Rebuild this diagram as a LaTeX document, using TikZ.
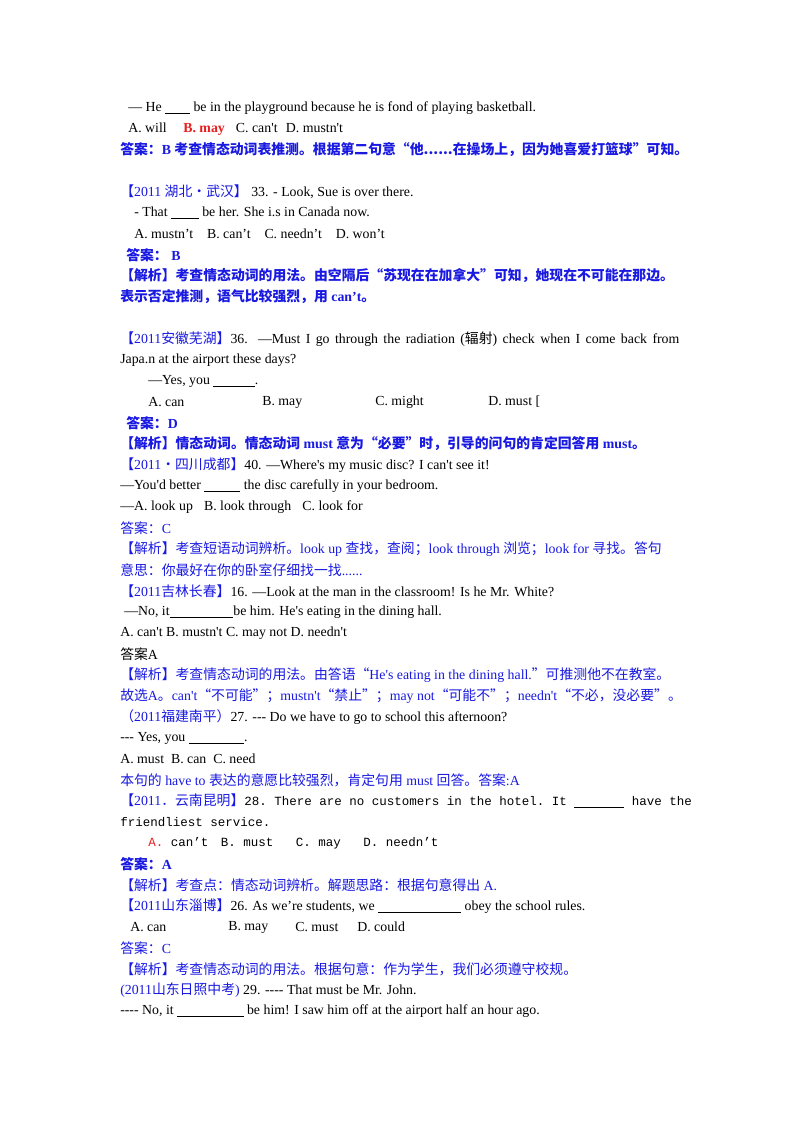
\documentclass[tikz,border=0pt]{standalone}
\usepackage{fontspec}
\setmainfont{Liberation Serif}[Ligatures=TeXOff]
\setmonofont{Liberation Mono}
\newfontfamily\zhf{Noto Sans CJK SC}
\newcommand{\zh}[1]{{\zhf #1}}
\newcommand{\zb}[1]{{\zhf\bfseries #1}}
\newcommand{\bl}[1]{\underline{\hspace{#1}}}
\definecolor{qb}{RGB}{25,25,225}
\definecolor{qr}{RGB}{230,30,30}
\begin{document}
\begin{tikzpicture}[x=0.744pt,y=-0.744pt,
  ln/.style={anchor=west,inner sep=0pt,font=\fontsize{10.3pt}{12pt}\selectfont},
  bln/.style={ln,text=qb},
  mono/.style={ln,font=\ttfamily\fontsize{9.3pt}{12pt}\selectfont}]
\fill[white] (0,0) rectangle (800,1132);
\node[ln] (l1) at (128,108) {— He \bl{1.8em} be in the playground because he is fond of playing basketball.};
\node[ln] (l2) at (128,129) {A. will\hspace{1.2em}{\color{qr}\bfseries B. may}\hspace{0.8em}C. can't\hspace{0.6em}D. mustn't};
\node[bln] (l3) at (120,150) {\bfseries\zb{答案：}B \zb{考查情态动词表推测。根据第二句意“他......在操场上，因为她喜爱打篮球”可知。}};
\node[ln] (l4) at (120,192) {{\color{qb}\zh{【}2011 \zh{湖北·武汉】}} 33. - Look, Sue is over there.};
\node[ln] (l5) at (134,213) {- That \bl{2em} be her. She i.s in Canada now.};
\node[ln] (l6) at (134,234) {A. mustn’t\hspace{1em}B. can’t\hspace{1em}C. needn’t\hspace{1em}D. won’t};
\node[bln] (l7) at (126,255) {\bfseries\zb{答案：} B};
\node[bln] (l8) at (120,276) {\bfseries\zb{【解析】考查情态动词的用法。由空隔后“苏现在在加拿大”可知，她现在不可能在那边。}};
\node[bln] (l9) at (120,297) {\bfseries\zb{表示否定推测，语气比较强烈，用} can’t\zb{。}};
\node[ln] (l10) at (120,339) {\makebox[416pt][s]{{\color{qb}\zh{【}2011\zh{安徽芜湖】}}36. —Must I go through the radiation (\zh{辐射}) check when I come back from}};
\node[ln] (l11) at (120,360) {Japa.n at the airport these days?};
\node[ln] (l12) at (148,381) {—Yes, you \bl{3em}.};
\node[ln] (a1) at (148,402) {A. can};
\node[ln] (a2) at (262,402) {B. may};
\node[ln] (a3) at (375,402) {C. might};
\node[ln] (a4) at (488,402) {D. must [};
\node[bln] (l13) at (126,423) {\bfseries\zb{答案：}D};
\node[bln] (l14) at (120,444) {\bfseries\zb{【解析】情态动词。情态动词} must \zb{意为“必要”时，引导的问句的肯定回答用} must\zb{。}};
\node[ln] (l15) at (120,465) {{\color{qb}\zh{【}2011\zh{•四川成都】}}40. —Where's my music disc? I can't see it!};
\node[ln] (l16) at (120,486) {—You'd better \textbf{\bl{2.6em}} the disc carefully in your bedroom.};
\node[ln] (l17) at (120,507) {—A. look up\hspace{0.8em}B. look through\hspace{0.8em}C. look for};
\node[bln] (l18) at (120,528) {\zh{答案：}C};
\node[bln] (l19) at (120,549) {\zh{【解析】考查短语动词辨析。}look up \zh{查找，查阅；}look through \zh{浏览；}look for \zh{寻找。答句}};
\node[bln] (l20) at (120,570) {\zh{意思：你最好在你的卧室仔细找一找}......};
\node[ln] (l21) at (120,591) {{\color{qb}\zh{【}2011\zh{吉林长春】}}16. —Look at the man in the classroom! Is he Mr. White?};
\node[ln] (l22) at (124,612) {—No, it\bl{4.6em}be him. He's eating in the dining hall.};
\node[ln] (l23) at (120,633) {A. can't B. mustn't C. may not D. needn't};
\node[ln] (l24) at (120,654) {\zh{答案}A};
\node[bln] (l25) at (120,675) {\zh{【解析】考查情态动词的用法。由答语“}He's eating in the dining hall.\zh{”可推测他不在教室。}};
\node[bln] (l26) at (120,696) {\zh{故选}A\zh{。}can't\zh{“不可能”；}mustn't\zh{“禁止”；}may not\zh{“可能不”；}needn't\zh{“不必，没必要”。}};
\node[ln] (l27) at (120,717) {{\color{qb}\zh{（}2011\zh{福建南平）}}27. --- Do we have to go to school this afternoon?};
\node[ln] (l28) at (120,738) {--- Yes, you \bl{4em}.};
\node[ln] (l29) at (120,759) {A. must\hspace{0.5em}B. can\hspace{0.5em}C. need};
\node[bln] (l30) at (120,780) {\zh{本句的} have to \zh{表达的意愿比较强烈，肯定句用} must \zh{回答。答案}:A};
\node[ln] (l31) at (120,801) {{\color{qb}\zh{【}2011\zh{．云南昆明】}}{\ttfamily\fontsize{9.3pt}{12pt}\selectfont 28. There are no customers in the hotel. It \bl{4em} have the}};
\node[mono] (l32) at (120,822) {friendliest service.};
\node[mono] (l33) at (148,843) {{\color{qr}A.} can’t\hspace{1em}B. must\hspace{1.8em}C. may\hspace{1.8em}D. needn’t};
\node[bln] (l34) at (120,864) {\bfseries\zb{答案：}A};
\node[bln] (l35) at (120,885) {\zh{【解析】考查点：情态动词辨析。解题思路：根据句意得出} A.};
\node[ln] (l36) at (120,906) {{\color{qb}\zh{【}2011\zh{山东淄博】}}26. As we’re students, we \bl{6em} obey the school rules.};
\node[ln] (b1) at (130,927) {A. can};
\node[ln] (b2) at (228,927) {B. may};
\node[ln] (b3) at (295,927) {C. must};
\node[ln] (b4) at (357,927) {D. could};
\node[bln] (l37) at (120,948) {\zh{答案：}C};
\node[bln] (l38) at (120,969) {\zh{【解析】考查情态动词的用法。根据句意：作为学生，我们必须遵守校规。}};
\node[ln] (l39) at (120,990) {{\color{qb}(2011\zh{山东日照中考})} 29. ---- That must be Mr. John.};
\node[ln] (l40) at (120,1011) {---- No, it \bl{4.8em} be him! I saw him off at the airport half an hour ago.};
\end{tikzpicture}
\end{document}
